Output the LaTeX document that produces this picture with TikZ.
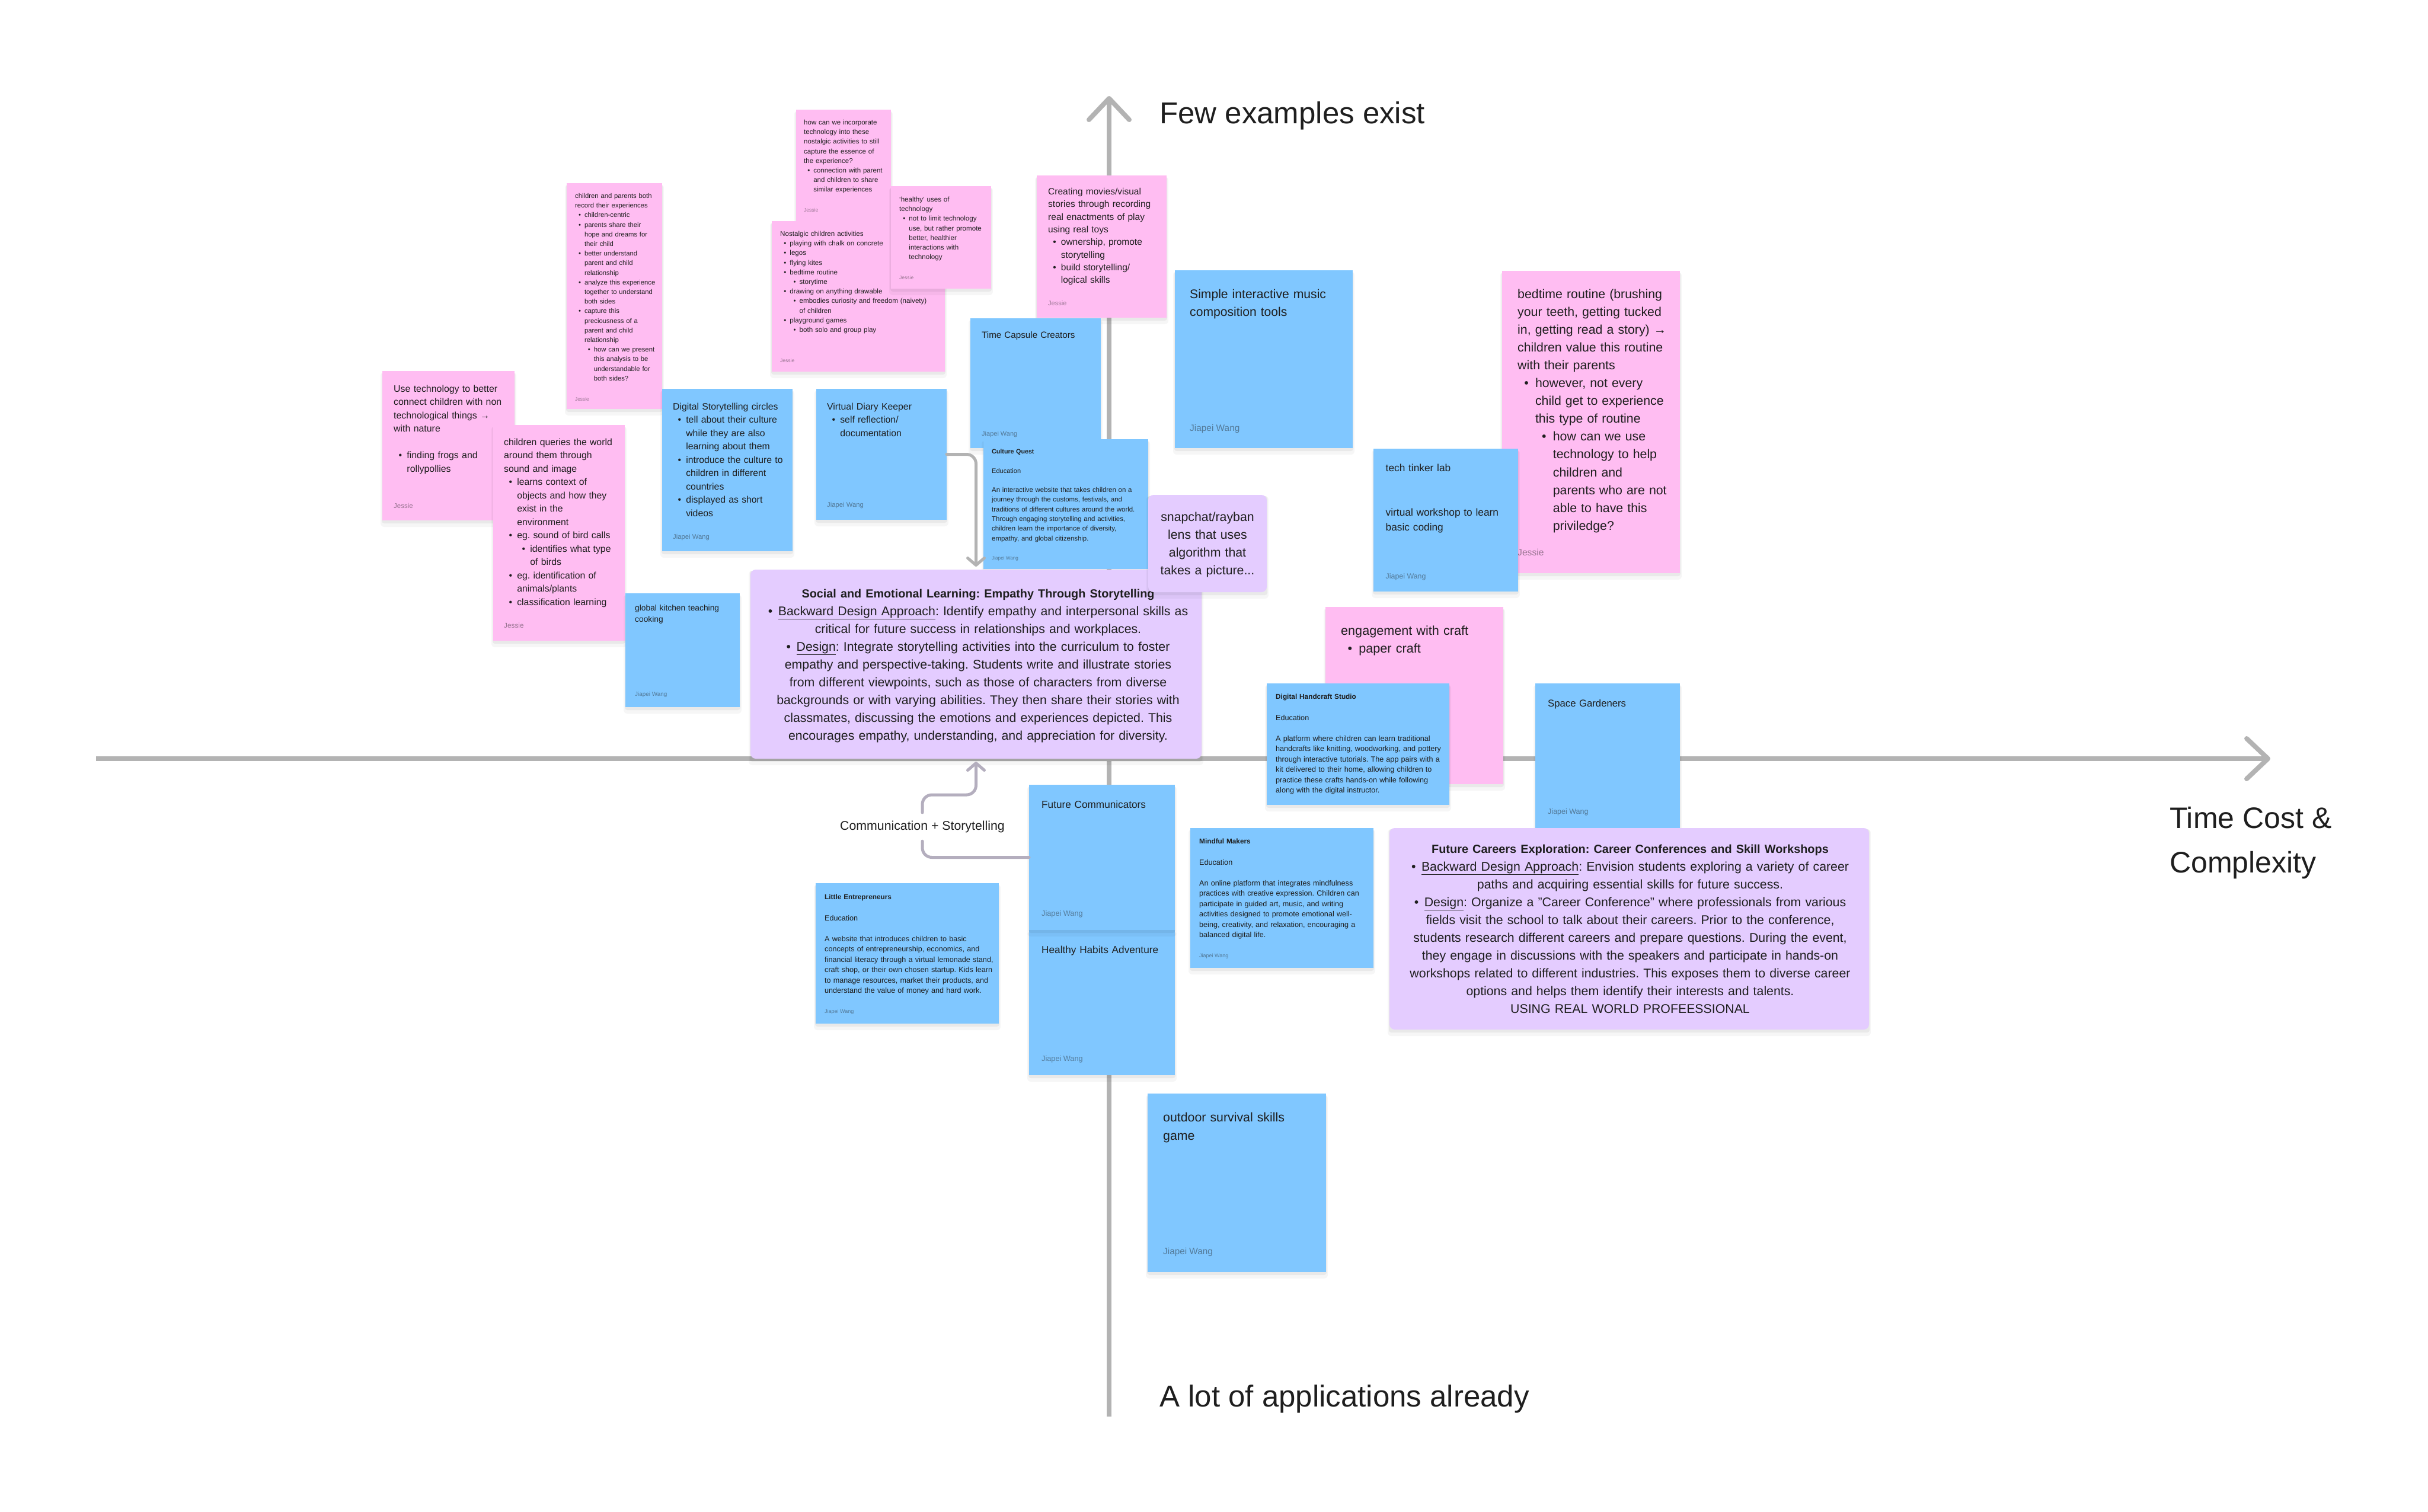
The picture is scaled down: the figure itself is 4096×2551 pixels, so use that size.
\documentclass[tikz,border=0pt]{standalone}
\usepackage{fontspec}
\setmainfont{Liberation Sans}
\usetikzlibrary{arrows.meta}
\definecolor{pinkn}{HTML}{FFBDF2}
\definecolor{bluen}{HTML}{80C7FF}
\definecolor{purpn}{HTML}{E4CCFF}
\definecolor{ink}{HTML}{1E1E1E}
\definecolor{axisg}{HTML}{B3B3B3}
\definecolor{conng}{HTML}{B4AEBE}
\frenchspacing
\newcommand\fsz[2]{\fontsize{#1pt}{#2pt}\selectfont}
\newcommand\blA{\hspace*{1.4em}\llap{\textbullet\hspace{0.525em}}}
\newcommand\clA{\hspace*{1.4em}}
\newcommand\blB{\hspace*{2.8em}\llap{\textbullet\hspace{0.525em}}}
\newcommand\clB{\hspace*{2.8em}}
\newcommand\stick[6]{%
  \fill[black,opacity=0.035,rounded corners=6pt] (#3-3,#4+2) rectangle (#5+3,#6+11);
  \fill[black,opacity=0.05,rounded corners=4pt] (#3-1,#4+2) rectangle (#5+1,#6+5);
  \node[#2, minimum width={#5pt-#3pt}, minimum height={#6pt-#4pt}] (#1) at ({(#3+#5)/2},{(#4+#6)/2}) {};}
\tikzset{
  notebox/.style={inner sep=0pt, outer sep=0pt, draw=none},
  pinkbox/.style={notebox, fill=pinkn},
  bluebox/.style={notebox, fill=bluen},
  purpbox/.style={notebox, fill=purpn, rounded corners=9pt},
  txt/.style={anchor=base west, inner sep=0pt, text=ink, align=left, text width=600pt},
  ctxt/.style={anchor=base, inner sep=0pt, text=ink, align=center, text width=#1},
  author/.style={anchor=base west, inner sep=0pt, text=ink, text opacity=0.45},
  axlabel/.style={anchor=base west, inner sep=0pt, text=ink},
  axisline/.style={draw=axisg, line width=8pt, -{Straight Barb[length=36pt,width=68pt,round]}},
  conn/.style={draw=conng, line width=5pt, rounded corners=16pt, line cap=round},
  arrowend/.style={-{Straight Barb[length=12pt,width=28pt,round]}, shorten >=5pt}
}
\begin{document}
\begin{tikzpicture}[x=1pt,y=-1pt]
\fill[white] (0,0) rectangle (4096,2551);
\useasboundingbox (0,0) rectangle (4096,2551);

% axes
\coordinate (xL) at (162,1280);
\coordinate (xR) at (3830,1280);
\coordinate (yB) at (1871,2390);
\coordinate (yT) at (1871,162);
\draw[axisline] (xL) -- (xR);
\draw[axisline] (yB) -- (yT);
\node[axlabel, font=\fsz{51}{60}] (lfew) at (1956,208) {Few examples exist};
\node[axlabel, font=\fsz{51}{60}] (llot) at (1956,2373) {A lot of applications already};
\node[axlabel, font=\fsz{50}{60}] (ltimea) at (3660,1397) {Time Cost \&};
\node[axlabel, font=\fsz{50}{60}] (ltimeb) at (3660,1472) {Complexity};

% top pink cluster
\stick{p1}{pinkbox}{1343}{185}{1503}{373}
\node[txt, font=\fsz{11.5}{16.2}] (p1t) at (1356,210.5) {how can we incorporate\\technology into these\\nostalgic activities to still\\capture the essence of\\the experience?\\\blA connection with parent\\\clA and children to share\\\clA similar experiences};
\node[author, font=\fsz{8.5}{10}] (p1a) at (1356,357) {Jessie};

\stick{p3}{pinkbox}{1302}{373}{1594}{627}
\node[txt, font=\fsz{11.6}{16.2}] (p3t) at (1316,398.5) {Nostalgic children activities\\\blA playing with chalk on concrete\\\blA legos\\\blA flying kites\\\blA bedtime routine\\\blB storytime\\\blA drawing on anything drawable\\\blB embodies curiosity and freedom (naivety)\\\clB of children\\\blA playground games\\\blB both solo and group play};
\node[author, font=\fsz{8.5}{10}] (p3a) at (1316,611) {Jessie};

\stick{p2}{pinkbox}{1503}{314}{1672}{487}
\node[txt, font=\fsz{11.6}{16.2}] (p2t) at (1517,340.5) {‘healthy’ uses of\\technology\\\blA not to limit technology\\\clA use, but rather promote\\\clA better, healthier\\\clA interactions with\\\clA technology};
\node[author, font=\fsz{8.5}{10}] (p2a) at (1517,471) {Jessie};

\stick{p4}{pinkbox}{956}{309}{1117}{690}
\node[txt, font=\fsz{11.3}{16.2}] (p4t) at (970,334.5) {children and parents both\\record their experiences\\\blA children-centric\\\blA parents share their\\\clA hope and dreams for\\\clA their child\\\blA better understand\\\clA parent and child\\\clA relationship\\\blA analyze this experience\\\clA together to understand\\\clA both sides\\\blA capture this\\\clA preciousness of a\\\clA parent and child\\\clA relationship\\\blB how can we present\\\clB this analysis to be\\\clB understandable for\\\clB both sides?};
\node[author, font=\fsz{8.3}{10}] (p4a) at (970,676) {Jessie};

\stick{p5}{pinkbox}{645}{626}{868}{878}
\node[txt, font=\fsz{15.9}{22.5}] (p5t) at (664,661) {Use technology to better\\connect children with non\\technological things →\\with nature\\[22.5pt]\blA finding frogs and\\\clA rollypollies};
\node[author, font=\fsz{11.5}{14}] (p5a) at (664,857) {Jessie};

\stick{p6}{pinkbox}{832}{717}{1054}{1081}
\node[txt, font=\fsz{15.8}{22.5}] (p6t) at (850,751) {children queries the world\\around them through\\sound and image\\\blA learns context of\\\clA objects and how they\\\clA exist in the\\\clA environment\\\blA eg. sound of bird calls\\\blB identifies what type\\\clB of birds\\\blA eg. identification of\\\clA animals/plants\\\blA classification learning};
\node[author, font=\fsz{11.8}{14}] (p6a) at (850,1059) {Jessie};

\stick{b1}{bluebox}{1117}{656}{1337}{930}
\node[txt, font=\fsz{15.8}{22.5}] (b1t) at (1135,691) {Digital Storytelling circles\\\blA tell about their culture\\\clA while they are also\\\clA learning about them\\\blA introduce the culture to\\\clA children in different\\\clA countries\\\blA displayed as short\\\clA videos};
\node[author, font=\fsz{11.3}{14}] (b1a) at (1135,909) {Jiapei Wang};

\stick{b2}{bluebox}{1377}{656}{1597}{877}
\node[txt, font=\fsz{15.8}{22.5}] (b2t) at (1395,691) {Virtual Diary Keeper\\\blA self reflection/\\\clA documentation};
\node[author, font=\fsz{11.3}{14}] (b2a) at (1395,855) {Jiapei Wang};

\stick{b3}{bluebox}{1055}{1001}{1248}{1193}
\node[txt, font=\fsz{13.8}{19.3}] (b3t) at (1071,1030) {global kitchen teaching\\cooking};
\node[author, font=\fsz{9.9}{12}] (b3a) at (1071,1174) {Jiapei Wang};

\stick{p7}{pinkbox}{1749}{296}{1968}{536}
\node[txt, font=\fsz{15.5}{21.3}] (p7t) at (1768,328.6) {Creating movies/visual\\stories through recording\\real enactments of play\\using real toys\\\blA ownership, promote\\\clA storytelling\\\blA build storytelling/\\\clA logical skills};
\node[author, font=\fsz{11}{13}] (p7a) at (1768,515) {Jessie};

\stick{b4}{bluebox}{1637}{537}{1857}{756}
\node[txt, font=\fsz{15.2}{20}] (b4t) at (1656,570) {Time Capsule Creators};
\node[author, font=\fsz{11}{13}] (b4a) at (1656,735) {Jiapei Wang};

\stick{b5}{bluebox}{1659}{741}{1937}{960}
\node[txt, font=\fsz{10.7}{13}\bfseries] (b5h) at (1673,765.5) {Culture Quest};
\node[txt, font=\fsz{11}{13}] (b5c) at (1673,798.5) {Education};
\node[txt, font=\fsz{11.4}{16.3}] (b5t) at (1673,830.5) {An interactive website that takes children on a\\journey through the customs, festivals, and\\traditions of different cultures around the world.\\Through engaging storytelling and activities,\\children learn the importance of diversity,\\empathy, and global citizenship.};
\node[author, font=\fsz{8.2}{10}] (b5a) at (1673,944.5) {Jiapei Wang};

% SEL box
\stick{sel}{purpbox}{1266}{961}{2027}{1280}
\node[ctxt=740pt, font=\fsz{21.3}{30}] (selt) at (1650,1008) {{\bfseries\fsz{19.8}{30}Social and Emotional Learning: Empathy Through Storytelling}\\\textbullet\hspace{0.45em}\underline{Backward Design Approach}: Identify empathy and interpersonal skills as\\critical for future success in relationships and workplaces.\\\textbullet\hspace{0.45em}\underline{Design}: Integrate storytelling activities into the curriculum to foster\\empathy and perspective-taking. Students write and illustrate stories\\from different viewpoints, such as those of characters from diverse\\backgrounds or with varying abilities. They then share their stories with\\classmates, discussing the emotions and experiences depicted. This\\encourages empathy, understanding, and appreciation for diversity.};

\stick{u2}{purpbox}{1937}{835}{2137}{999}
\node[ctxt=195pt, font=\fsz{21.3}{30}] (u2t) at (2037,879.4) {snapchat/rayban\\lens that uses\\algorithm that\\takes a picture...};

% right upper
\stick{b6}{bluebox}{1982}{456}{2282}{756}
\node[txt, font=\fsz{21.1}{30}] (b6t) at (2007,503) {Simple interactive music\\composition tools};
\node[author, font=\fsz{15.4}{18}] (b6a) at (2007,727) {Jiapei Wang};

\stick{p8}{pinkbox}{2534}{457}{2834}{967}
\node[txt, font=\fsz{21.3}{30.1}] (p8t) at (2560,503) {bedtime routine (brushing\\your teeth, getting tucked\\in, getting read a story) →\\children value this routine\\with their parents\\\blA however, not every\\\clA child get to experience\\\clA this type of routine\\\blB how can we use\\\clB technology to help\\\clB children and\\\clB parents who are not\\\clB able to have this\\\clB priviledge?};
\node[author, font=\fsz{15.6}{18}] (p8a) at (2560,937) {Jessie};

\stick{b7}{bluebox}{2317}{757}{2561}{998}
\node[txt, font=\fsz{17.3}{25}] (b7t) at (2337.5,795) {tech tinker lab\\[50pt]virtual workshop to learn\\basic coding};
\node[author, font=\fsz{12.4}{15}] (b7a) at (2337.5,976) {Jiapei Wang};

\stick{p9}{pinkbox}{2236}{1024}{2536}{1323}
\node[txt, font=\fsz{21.6}{30}] (p9t) at (2262,1071.5) {engagement with craft\\\blA paper craft};

\stick{b8}{bluebox}{2137}{1153}{2445}{1358}
\node[txt, font=\fsz{11.8}{14}\bfseries] (b8h) at (2152,1179.5) {Digital Handcraft Studio};
\node[txt, font=\fsz{12.6}{15}] (b8c) at (2152,1215) {Education};
\node[txt, font=\fsz{12.6}{17.5}] (b8t) at (2152,1250) {A platform where children can learn traditional\\handcrafts like knitting, woodworking, and pottery\\through interactive tutorials. The app pairs with a\\kit delivered to their home, allowing children to\\practice these crafts hands-on while following\\along with the digital instructor.};

\stick{b9}{bluebox}{2590}{1153}{2834}{1397}
\node[txt, font=\fsz{16.7}{20}] (b9t) at (2611,1192) {Space Gardeners};
\node[author, font=\fsz{12.5}{15}] (b9a) at (2611,1373) {Jiapei Wang};

% lower middle
\stick{b11}{bluebox}{1736}{1569}{1982}{1814}
\node[txt, font=\fsz{17.2}{20}] (b11t) at (1757,1608) {Healthy Habits Adventure};
\node[author, font=\fsz{12.7}{15}] (b11a) at (1757,1790) {Jiapei Wang};

\stick{b10}{bluebox}{1736}{1324}{1982}{1569}
\node[txt, font=\fsz{17.2}{20}] (b10t) at (1757,1363) {Future Communicators};
\node[author, font=\fsz{12.7}{15}] (b10a) at (1757,1545) {Jiapei Wang};

\stick{b12}{bluebox}{1376}{1490}{1685}{1727}
\node[txt, font=\fsz{11.8}{14}\bfseries] (b12h) at (1391,1517.5) {Little Entrepreneurs};
\node[txt, font=\fsz{12.6}{15}] (b12c) at (1391,1553) {Education};
\node[txt, font=\fsz{12.6}{17.5}] (b12t) at (1391,1588) {A website that introduces children to basic\\concepts of entrepreneurship, economics, and\\financial literacy through a virtual lemonade stand,\\craft shop, or their own chosen startup. Kids learn\\to manage resources, market their products, and\\understand the value of money and hard work.};
\node[author, font=\fsz{9}{11}] (b12a) at (1391,1709) {Jiapei Wang};

\stick{b13}{bluebox}{2008}{1397}{2317}{1633}
\node[txt, font=\fsz{11.8}{14}\bfseries] (b13h) at (2023,1423.5) {Mindful Makers};
\node[txt, font=\fsz{12.6}{15}] (b13c) at (2023,1459) {Education};
\node[txt, font=\fsz{12.6}{17.5}] (b13t) at (2023,1494) {An online platform that integrates mindfulness\\practices with creative expression. Children can\\participate in guided art, music, and writing\\activities designed to promote emotional well-\\being, creativity, and relaxation, encouraging a\\balanced digital life.};
\node[author, font=\fsz{9}{11}] (b13a) at (2023,1615) {Jiapei Wang};

\stick{u3}{purpbox}{2344}{1397}{3153}{1737}
\node[ctxt=790pt, font=\fsz{21.3}{30}] (u3t) at (2750,1439) {{\bfseries\fsz{19.9}{30}Future Careers Exploration: Career Conferences and Skill Workshops}\\\textbullet\hspace{0.45em}\underline{Backward Design Approach}: Envision students exploring a variety of career\\paths and acquiring essential skills for future success.\\\textbullet\hspace{0.45em}\underline{Design}: Organize a "Career Conference" where professionals from various\\fields visit the school to talk about their careers. Prior to the conference,\\students research different careers and prepare questions. During the event,\\they engage in discussions with the speakers and participate in hands-on\\workshops related to different industries. This exposes them to diverse career\\options and helps them identify their interests and talents.\\USING REAL WORLD PROFEESSIONAL};

\stick{b14}{bluebox}{1936}{1845}{2237}{2146}
\node[txt, font=\fsz{21.3}{31}] (b14t) at (1962,1892) {outdoor survival skills\\game};
\node[author, font=\fsz{15.3}{18}] (b14a) at (1962,2116) {Jiapei Wang};

% connectors
\node[font=\fsz{21.3}{25}, text=ink, inner sep=0pt, minimum height=48pt] (comm) at (1556,1395) {Communication + Storytelling};
\coordinate (k1) at (1646.5,1341);
\draw[conn, arrowend] (comm.north) -- (comm.north |- k1) -- (k1) -- (sel.south);
\draw[conn] (comm.south) -- (comm.south |- b10.west) -- (b10.west);
\draw[conn, draw=axisg, arrowend] (b2.east) -- (b2.east -| sel.north) -- (sel.north);
\end{tikzpicture}
\end{document}
